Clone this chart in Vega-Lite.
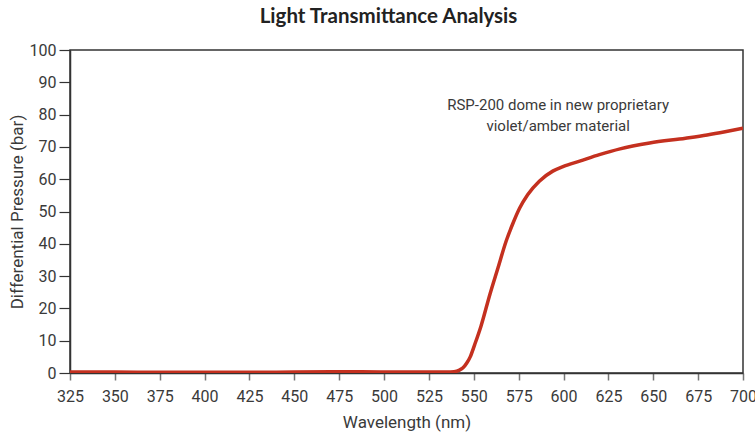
{
  "$schema": "https://vega.github.io/schema/vega-lite/v6.json",
  "autosize": "none",
  "padding": {"left": 70, "top": 50, "right": 12, "bottom": 61},
  "width": 673,
  "height": 323,
  "background": "white",
  "title": {
    "text": "Light Transmittance Analysis",
    "font": "Lato",
    "fontSize": 20.5,
    "fontWeight": "bold",
    "color": "#222222",
    "anchor": "middle",
    "dx": -18,
    "offset": 15
  },
  "config": {
    "view": {"stroke": "#333333", "strokeWidth": 1.5},
    "axis": {
      "labelFont": "Roboto",
      "titleFont": "Roboto",
      "labelFontSize": 16,
      "titleFontSize": 17,
      "titleFontWeight": "normal",
      "labelColor": "#3a3a3a",
      "titleColor": "#3a3a3a",
      "domainColor": "#333333",
      "domainWidth": 1.5,
      "grid": false,
      "labelOverlap": false,
      "labelFlush": false,
      "labelBound": false
    }
  },
  "encoding": {
    "x": {
      "field": "wavelength",
      "type": "quantitative",
      "scale": {"domain": [325, 700], "nice": false, "zero": false},
      "axis": {"values": [325, 350, 375, 400, 425, 450, 475, 500, 525, 550, 575, 600, 625, 650, 675, 700], "title": "Wavelength (nm)", "titlePadding": 10, "labelPadding": 8, "tickSize": 7, "tickColor": "#777777", "tickWidth": 1.5}
    },
    "y": {
      "field": "value",
      "type": "quantitative",
      "scale": {"domain": [0, 100], "nice": false},
      "axis": {"values": [0, 10, 20, 30, 40, 50, 60, 70, 80, 90, 100], "tickCount": 11, "title": "Differential Pressure (bar)", "titlePadding": 3, "labelPadding": 3, "tickSize": 11, "tickColor": "#333333", "tickWidth": 1.2}
    }
  },
  "layer": [
    {
      "data": {
        "values": [
          {"wavelength": 325, "value": 0.3},
          {"wavelength": 350, "value": 0.3},
          {"wavelength": 375, "value": 0.2},
          {"wavelength": 400, "value": 0.2},
          {"wavelength": 425, "value": 0.2},
          {"wavelength": 450, "value": 0.3},
          {"wavelength": 475, "value": 0.4},
          {"wavelength": 500, "value": 0.3},
          {"wavelength": 525, "value": 0.3},
          {"wavelength": 535, "value": 0.3},
          {"wavelength": 539, "value": 0.4},
          {"wavelength": 542, "value": 0.9},
          {"wavelength": 544, "value": 1.6},
          {"wavelength": 546, "value": 3.0},
          {"wavelength": 548, "value": 5.0},
          {"wavelength": 550.5, "value": 8.8},
          {"wavelength": 554, "value": 14.5},
          {"wavelength": 559, "value": 24.4},
          {"wavelength": 563.5, "value": 32.6},
          {"wavelength": 568, "value": 40.8},
          {"wavelength": 572, "value": 46.6},
          {"wavelength": 575.5, "value": 51.0},
          {"wavelength": 580, "value": 55.2},
          {"wavelength": 586.5, "value": 59.4},
          {"wavelength": 594, "value": 62.5},
          {"wavelength": 600, "value": 64.0},
          {"wavelength": 609, "value": 65.6},
          {"wavelength": 620, "value": 67.6},
          {"wavelength": 631.5, "value": 69.4},
          {"wavelength": 648, "value": 71.2},
          {"wavelength": 668, "value": 72.7},
          {"wavelength": 680, "value": 73.7},
          {"wavelength": 690, "value": 74.7},
          {"wavelength": 700, "value": 75.8}
        ]
      },
      "mark": {"type": "line", "color": "#c4301f", "strokeWidth": 3.5, "interpolate": "monotone", "clip": true}
    },
    {
      "data": {"values": [{"wavelength": 597, "value": 83, "label": "RSP-200 dome in new proprietary"}, {"wavelength": 597, "value": 76.5, "label": "violet/amber material"}]},
      "mark": {"type": "text", "font": "Roboto", "fontSize": 15, "color": "#3a3a3a", "align": "center", "baseline": "middle"},
      "encoding": {
        "text": {"field": "label"}
      }
    }
  ]
}
